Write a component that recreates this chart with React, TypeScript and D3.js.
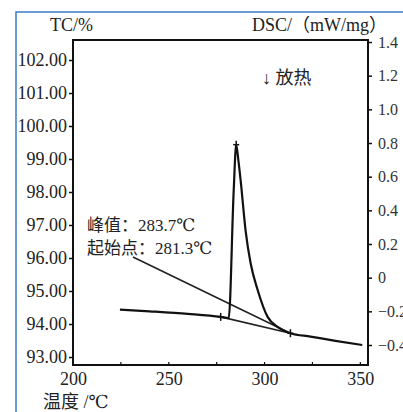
import React, { useEffect, useRef } from 'react';
import * as d3 from 'd3';

// DSC trace (temperature in °C, heat flow in mW/mg)
const dscTemp = [224.5, 240, 260, 277.1, 281.3, 283.9, 285.2, 286.3, 287.5, 290.1, 292.7, 296.4, 301.6, 306.8, 313.5, 324, 337, 351];
const dscValue = [-0.19, -0.2, -0.215, -0.233, -0.24, 0.52, 0.79, 0.7, 0.58, 0.28, 0.087, -0.073, -0.233, -0.293, -0.33, -0.35, -0.375, -0.4];

// integration baseline under the peak and the onset construction line
const baseTemp = [277.1, 313.5];
const baseValue = [-0.233, -0.33];
const onsetTemp = [231.3, 311];
const onsetValue = [0.123, -0.317];

// marker crosses
const markTemp = [277.1, 285.2, 313.5];
const markValue = [-0.233, 0.79, -0.33];

const tcTicks = [93, 94, 95, 96, 97, 98, 99, 100, 101, 102];
const dscTicks = [-0.4, -0.2, 0, 0.2, 0.4, 0.6, 0.8, 1.0, 1.2, 1.4];
const tempTicks = [200, 250, 300, 350];
const tempMinor = [225, 275, 325];

const peakLabel = '峰值：283.7℃';
const onsetLabel = '起始点：281.3℃';

const serif = "'Liberation Serif', 'Times New Roman', Tinos, 'DejaVu Serif', serif, 'Noto Sans CJK SC'";

const App = () => {
    const svgRef = useRef<SVGSVGElement | null>(null);

    useEffect(() => {
        if (!svgRef.current) return;
        const width = 403;
        const height = 412;
        const left = 73, right = 368, top = 40, bottom = 365;

        const svg = d3.select(svgRef.current);
        svg.selectAll('*').remove();
        svg.attr('width', width).attr('height', height).attr('font-family', serif);

        svg.append('rect').attr('width', width).attr('height', height).attr('fill', '#fff');

        // blue picture frame (cut off at right and bottom)
        svg.append('path')
            .attr('d', `M16,${height} L16,12 L${width},12`)
            .attr('fill', 'none')
            .attr('stroke', '#3b7dc4')
            .attr('stroke-width', 1.5);

        const x = d3.scaleLinear().domain([200, 354]).range([left, right]);
        const yL = d3.scaleLinear().domain([93, 102]).range([357, 60]);
        const yR = d3.scaleLinear().domain([-0.4, 1.4]).range([345, 42]);

        // left axis
        const gl = svg.append('g')
            .attr('transform', `translate(${left},0)`)
            .call(d3.axisLeft(yL).tickValues(tcTicks).tickSize(4).tickPadding(2).tickFormat(d3.format('.2f')));
        gl.attr('font-family', serif).attr('font-size', 18);
        gl.select('.domain').remove();
        gl.selectAll('line').attr('stroke', '#111').attr('stroke-width', 1.5);
        gl.selectAll('text').attr('fill', '#222');

        // right axis (labels run off the right edge, as in the source)
        const gr = svg.append('g')
            .attr('transform', `translate(${right},0)`)
            .call(d3.axisRight(yR).tickValues(dscTicks).tickSize(4).tickPadding(6)
                .tickFormat(d => (d === 0 ? '0' : d3.format('.1f')(d as number))));
        gr.attr('font-family', serif).attr('font-size', 16);
        gr.select('.domain').remove();
        gr.selectAll('line').attr('stroke', '#111').attr('stroke-width', 1.5);
        gr.selectAll('text').attr('fill', '#333');

        // bottom axis
        const gb = svg.append('g')
            .attr('transform', `translate(0,${bottom})`)
            .call(d3.axisBottom(x).tickValues(tempTicks).tickSize(0).tickPadding(7).tickFormat(d3.format('d')));
        gb.attr('font-family', serif).attr('font-size', 18);
        gb.select('.domain').remove();
        gb.selectAll('text').attr('fill', '#222');

        svg.append('g')
            .selectAll('line')
            .data([...tempTicks, ...tempMinor])
            .join('line')
            .attr('x1', d => x(d)).attr('x2', d => x(d))
            .attr('y1', bottom).attr('y2', bottom - 3)
            .attr('stroke', '#111').attr('stroke-width', 1.2);

        // plot frame
        svg.append('rect')
            .attr('x', left).attr('y', top)
            .attr('width', right - left).attr('height', bottom - top)
            .attr('fill', 'none')
            .attr('stroke', '#111')
            .attr('stroke-width', 2);

        const label = (tx: number, ty: number, size: number, s: string) =>
            svg.append('text').attr('x', tx).attr('y', ty)
                .attr('font-size', size).attr('fill', '#222')
                .text(s);

        // axis titles
        label(50, 31, 18, 'TC/%');
        label(252, 31, 18, 'DSC/（mW/mg）');
        label(43, 408, 18, '温度 /℃');
        label(262, 84, 18, '↓ 放热');

        // annotations
        label(87, 231, 17, peakLabel);
        label(87, 254, 17, onsetLabel);

        // lines
        const line = d3.line<[number, number]>()
            .x(d => x(d[0]))
            .y(d => yR(d[1]));

        svg.append('path')
            .datum(onsetTemp.map((t, i) => [t, onsetValue[i]] as [number, number]))
            .attr('fill', 'none').attr('stroke', '#222').attr('stroke-width', 1.6)
            .attr('d', line);

        svg.append('path')
            .datum(baseTemp.map((t, i) => [t, baseValue[i]] as [number, number]))
            .attr('fill', 'none').attr('stroke', '#222').attr('stroke-width', 1.6)
            .attr('d', line);

        svg.append('path')
            .datum(dscTemp.map((t, i) => [t, dscValue[i]] as [number, number]))
            .attr('fill', 'none').attr('stroke', '#111').attr('stroke-width', 2.2)
            .attr('stroke-linejoin', 'round')
            .attr('d', line.curve(d3.curveMonotoneX));

        // marker crosses
        const marks = svg.append('g').selectAll('g')
            .data(markTemp.map((t, i) => [t, markValue[i]]))
            .join('g')
            .attr('transform', d => `translate(${x(d[0])},${yR(d[1])})`);
        marks.append('line').attr('x1', -3).attr('x2', 3).attr('stroke', '#111').attr('stroke-width', 1.5);
        marks.append('line').attr('y1', -4).attr('y2', 4).attr('stroke', '#111').attr('stroke-width', 1.5);
    }, []);

    return (
        <svg
            ref={svgRef}
            width={403}
            height={412}
            style={{ position: 'absolute', left: 0, top: 0, display: 'block' }}
        />
    );
};

export default App;
